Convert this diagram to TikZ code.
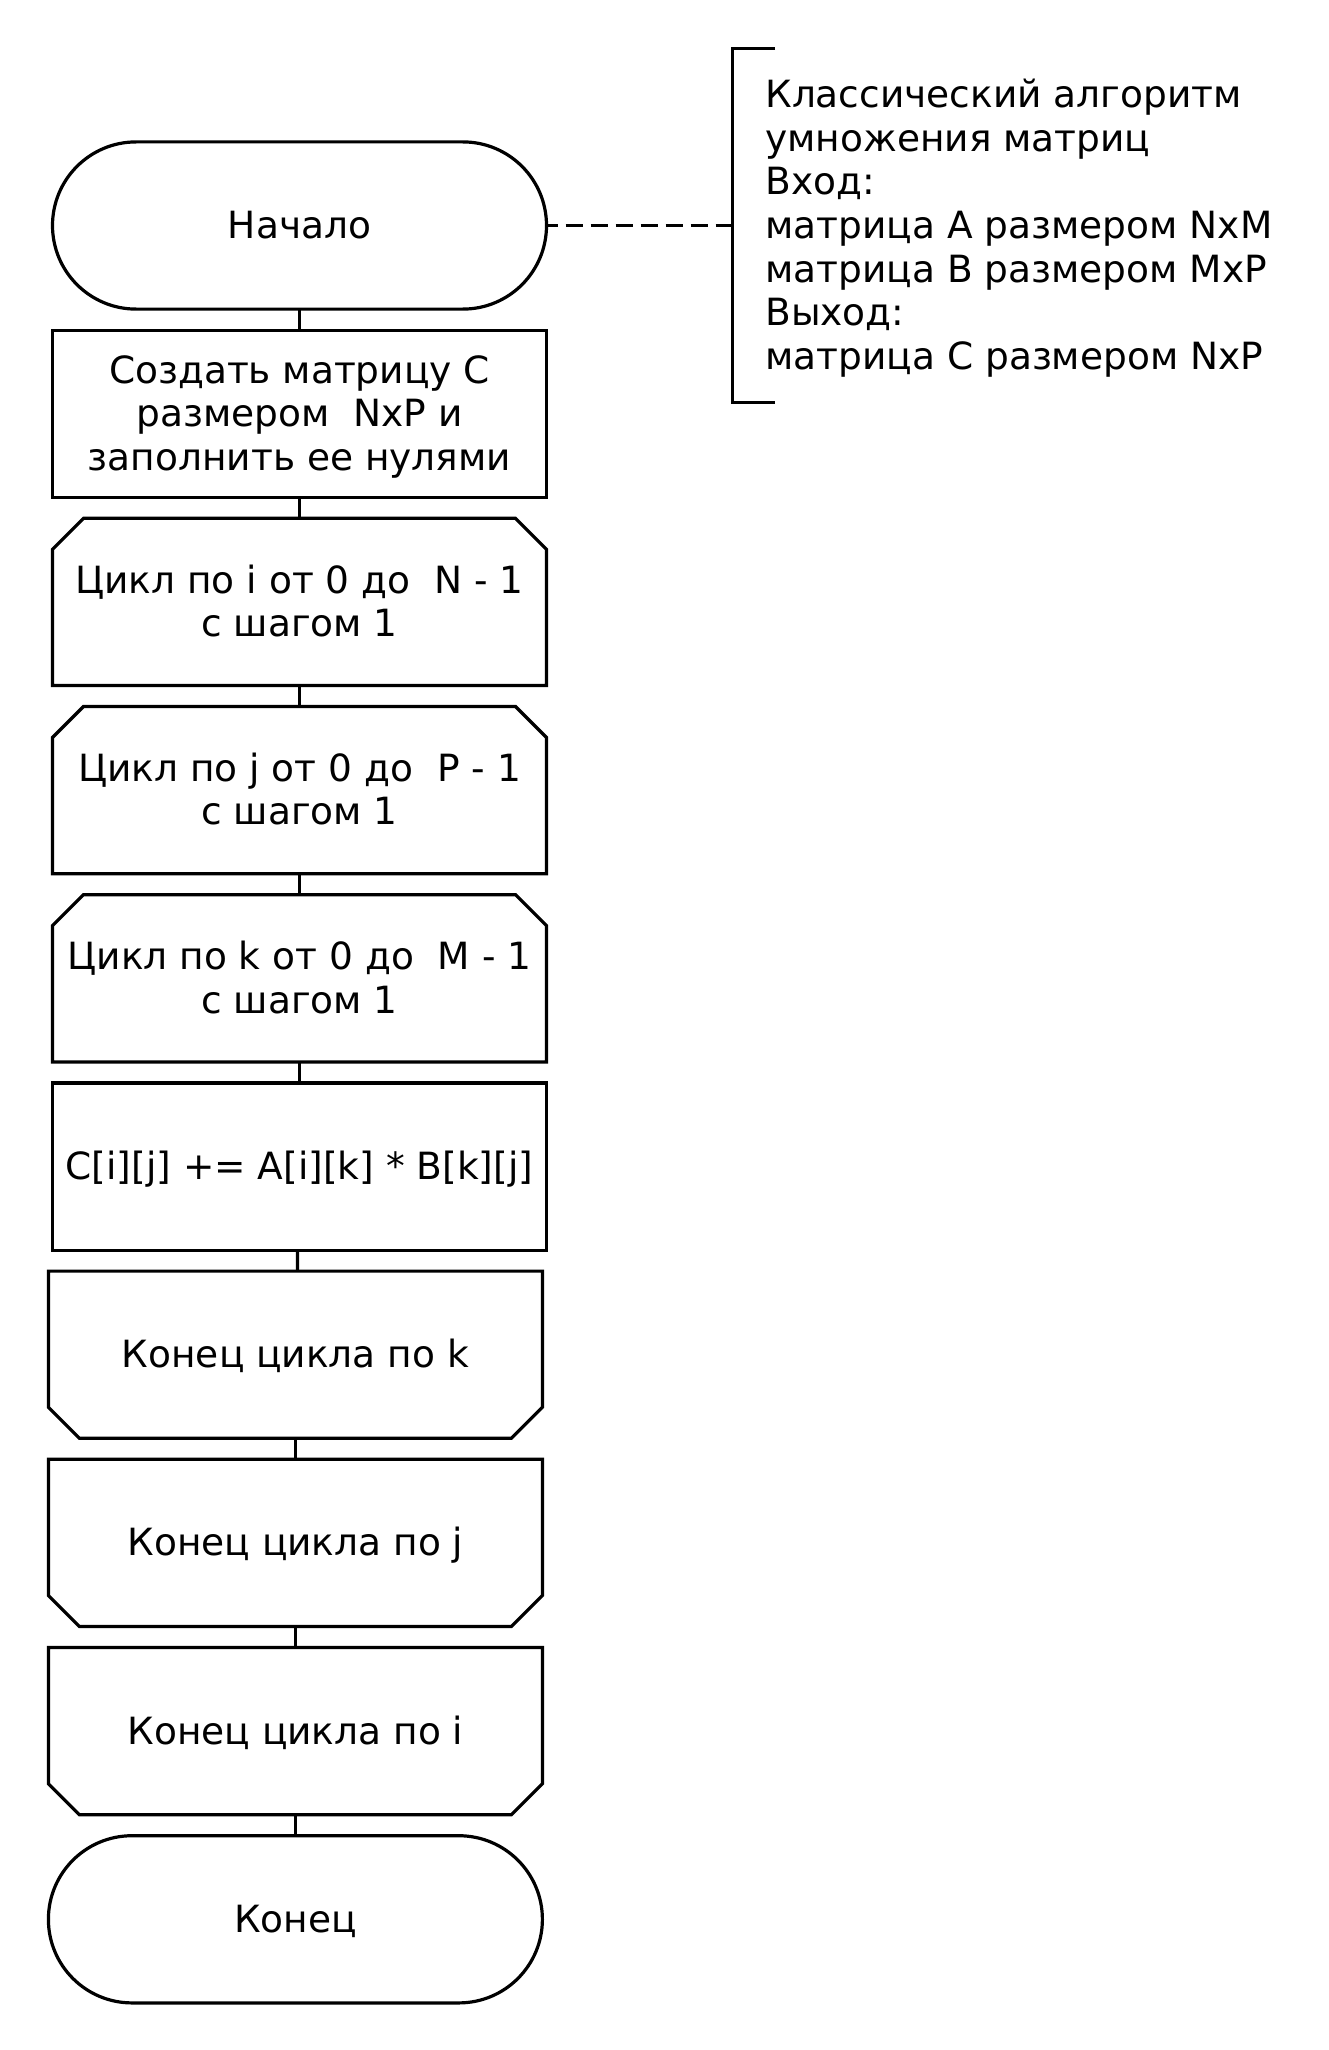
\documentclass[tikz,border=0pt]{standalone}
\usepackage{fontspec}
\setmainfont{DejaVu Sans}
\usetikzlibrary{calc}
\newcommand\fsz{\fontsize{18.75pt}{21.8pt}\selectfont}
\newcommand\mystrut{\rule[-4.43pt]{0pt}{21.8pt}}
\tikzset{
  base/.style={line width=1.6pt, inner sep=0pt, outer sep=0pt, minimum width=247pt, minimum height=83.6pt, align=center, font=\fsz},
  term/.style={base, draw, rounded corners=41.8pt},
  proc/.style={base, draw},
  loopbox/.style={base},
  conn/.style={line width=1.6pt},
  outline/.style={line width=1.6pt, line join=miter},
  note/.style={line width=1.6pt, dash pattern=on 8.5pt off 4pt, dash phase=3pt},
}
\begin{document}
\begin{tikzpicture}[x=0.5pt,y=-0.5pt]
\useasboundingbox (0,0) rectangle (1328,2050);
\fill[white] (0,0) rectangle (1328,2050);

% upper column
\node[term] (start) at (299.5,225.5) {\mystrut Начало};
\node[proc] (create) at (299.5,413.7) {\mystrut Создать матрицу C\\\mystrut размером\ \ NxP и\hspace*{0.318em}\\\mystrut заполнить ее нулями};
\node[loopbox] (li) at (299.5,601.9) {\mystrut Цикл по i от 0 до\ \ N - 1\\\mystrut с шагом 1};
\node[loopbox] (lj) at (299.5,790.1) {\mystrut Цикл по j от 0 до\ \ P - 1\\\mystrut с шагом 1};
\node[loopbox] (lk) at (299.5,978.3) {\mystrut Цикл по k от 0 до\ \ M - 1\\\mystrut с шагом 1};
\node[proc] (body) at (299.5,1166.5) {\mystrut C[i][j] += A[i][k] * B[k][j]};

% lower column
\node[loopbox] (ek) at (295.4,1354.7) {\mystrut Конец цикла по k};
\node[loopbox] (ej) at (295.4,1542.9) {\mystrut Конец цикла по j};
\node[loopbox] (ei) at (295.4,1731.1) {\mystrut Конец цикла по i};
\node[term] (stop) at (295.4,1919.3) {\mystrut Конец};

% loop-begin outlines (top corners chamfered)
\foreach \n in {li,lj,lk}{
  \draw[outline] (\n.south west) -- ([yshift=-15.5pt]\n.north west) -- ([xshift=15.5pt]\n.north west)
    -- ([xshift=-15.5pt]\n.north east) -- ([yshift=-15.5pt]\n.north east) -- (\n.south east) -- cycle;
}
% loop-end outlines (bottom corners chamfered)
\foreach \n in {ek,ej,ei}{
  \draw[outline] (\n.north west) -- ([yshift=15.5pt]\n.south west) -- ([xshift=15.5pt]\n.south west)
    -- ([xshift=-15.5pt]\n.south east) -- ([yshift=15.5pt]\n.south east) -- (\n.north east) -- cycle;
}

% connectors
\draw[conn] (start.south) -- (create.north);
\draw[conn] (create.south) -- (li.north);
\draw[conn] (li.south) -- (lj.north);
\draw[conn] (lj.south) -- (lk.north);
\draw[conn] (lk.south) -- (body.north);
\draw[conn] ([xshift=-1pt]body.south) -- ([xshift=1pt]ek.north);
\draw[conn] (ek.south) -- (ej.north);
\draw[conn] (ej.south) -- (ei.north);
\draw[conn] (ei.south) -- (stop.north);

% comment
\coordinate (bm) at (732.5,225.5);
\draw[outline] (775,48.4) -- (732.5,48.4) -- (732.5,402.6) -- (775,402.6);
\draw[note] (start.east) -- (bm);
\node[font=\fsz, align=left, anchor=west, inner sep=0pt] (comment) at (765,225.5)
 {\mystrut Классический алгоритм\\\mystrut умножения матриц\\\mystrut Вход:\\\mystrut матрица A размером NxM\\\mystrut матрица B размером MxP\\\mystrut Выход:\\\mystrut матрица C размером NxP};
\end{tikzpicture}
\end{document}
